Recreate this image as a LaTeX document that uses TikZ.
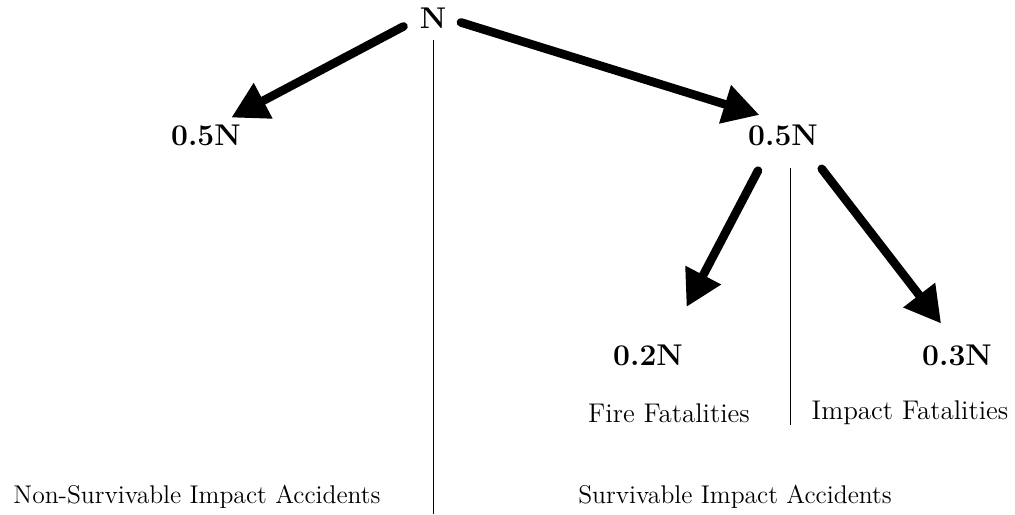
\documentclass[tikz,border=0pt]{standalone}
\usetikzlibrary{arrows.meta}
\tikzset{
  count/.style={font=\fontsize{15}{17}\selectfont\bfseries, inner sep=0pt},
  caption/.style={font=\fontsize{13.5}{16}\selectfont, inner sep=0pt},
  footer/.style={font=\fontsize{12.8}{15}\selectfont, inner sep=0pt},
  flow/.style={-{Triangle[length=18pt,width=19pt]}, line width=4.3pt, line cap=round},
  divider/.style={line width=0.5pt}
}
\begin{document}
\begin{tikzpicture}[x=0.5pt,y=-0.5pt]
\useasboundingbox (0,0) rectangle (1015,514);
\node[count] (n) at (433,18) {N};
\node[count] (l) at (206,135) {0.5N};
\node[count] (r) at (783,135) {0.5N};
\node[count] (fire) at (648,355) {0.2N};
\node[count] (impact) at (957,355) {0.3N};
\node[caption] (firecap) at (669,413) {Fire Fatalities};
\node[caption] (impactcap) at (910,413) {Impact Fatalities};
\node[footer] (nonsurv) at (197,497) {Non-Survivable Impact Accidents};
\node[footer] (surv) at (735,497) {Survivable Impact Accidents};
\coordinate (bottom) at (433,514);
\coordinate (split) at (790,425);

% dividing lines
\draw[divider] ([yshift=-5.5pt]n.south) -- (bottom);
\draw[divider] ([xshift=3.5pt,yshift=-11pt]r.south) -- (split);

\begin{scope}
\draw[flow, shorten <=9pt, shorten >=7pt] (n.west) -- ([xshift=6.5pt]l.north);
\draw[flow, shorten <=7.5pt, shorten >=15.5pt] (n.east) -- ([xshift=3pt]r.north);
\draw[flow, shorten <=14pt, shorten >=21pt] ([xshift=-6pt]r.south) -- ([xshift=9.5pt]fire.north);
\draw[flow, shorten <=14.5pt, shorten >=13pt] ([xshift=10.5pt]r.south) -- (impact.north);
\end{scope}

\end{tikzpicture}
\end{document}
